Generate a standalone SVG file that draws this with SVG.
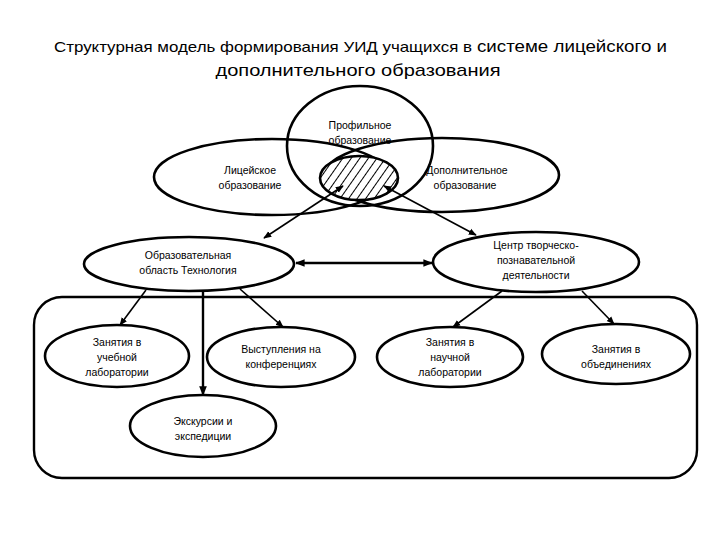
<svg xmlns="http://www.w3.org/2000/svg" width="720" height="540" viewBox="0 0 720 540">
<style>
.el{fill:none;stroke:#000;stroke-width:2.6}
.t{font-family:"Liberation Sans",Arial,sans-serif;font-size:10.5px;fill:#000;text-anchor:middle}
.title{font-family:"Liberation Sans",Arial,sans-serif;fill:#000}
.c{stroke:#000;stroke-width:1.6;fill:none}
.c2{stroke:#000;stroke-width:2.4;fill:none}
</style>
<defs>
<marker id="ah" viewBox="0 0 10 10" refX="9" refY="5" markerWidth="5" markerHeight="5" orient="auto-start-reverse" markerUnits="strokeWidth">
<path d="M0,1 L10,5 L0,9 z" fill="#000"/>
</marker>
<marker id="ah2" viewBox="0 0 10 10" refX="9" refY="5" markerWidth="4" markerHeight="4" orient="auto-start-reverse" markerUnits="strokeWidth">
<path d="M0,1 L10,5 L0,9 z" fill="#000"/>
</marker>
<pattern id="hatch" width="7" height="7" patternUnits="userSpaceOnUse" patternTransform="rotate(35)">
<rect width="7" height="7" fill="#fff"/>
<line x1="0.5" y1="0" x2="0.5" y2="7" stroke="#000" stroke-width="1"/>
</pattern>
</defs>
<rect width="720" height="540" fill="#fff"/>
<g id="title">
<text class="title" x="54" y="52" font-size="15" textLength="418" lengthAdjust="spacingAndGlyphs">Структурная модель формирования УИД учащихся в</text>
<text class="title" x="477" y="52" font-size="17" textLength="190" lengthAdjust="spacingAndGlyphs">системе лицейского и</text>
<text class="title" x="358" y="76" font-size="17" text-anchor="middle" textLength="285" lengthAdjust="spacingAndGlyphs">дополнительного образования</text>
</g>
<g id="frame">
<rect x="34" y="297" width="663" height="181" rx="28" ry="28" fill="none" stroke="#000" stroke-width="2.4"/>
</g>
<g id="n-licey">
<ellipse class="el" cx="272" cy="177" rx="118" ry="38"/>
<text class="t" x="250" y="174">Лицейское</text>
<text class="t" x="250" y="189">образование</text>
</g>
<g id="n-dop">
<ellipse class="el" cx="442" cy="175" rx="117" ry="37"/>
<text class="t" x="467" y="174">Дополнительное</text>
<text class="t" x="465" y="189">образование</text>
</g>
<g id="n-prof">
<ellipse class="el" cx="360" cy="146" rx="73" ry="60"/>
<text class="t" x="360" y="129">Профильное</text>
<text class="t" x="360" y="144">образование</text>
</g>
<g id="n-cross">
<ellipse cx="359" cy="178" rx="39" ry="22" fill="url(#hatch)" stroke="#000" stroke-width="2.6"/>
</g>
<g id="n-tech">
<ellipse class="el" cx="189" cy="264" rx="105" ry="27"/>
<text class="t" x="188" y="259">Образовательная</text>
<text class="t" x="188" y="274">область Технология</text>
</g>
<g id="n-center">
<ellipse class="el" cx="536" cy="262" rx="103" ry="30"/>
<text class="t" x="536" y="249">Центр творческо-</text>
<text class="t" x="536" y="264">познавательной</text>
<text class="t" x="536" y="279">деятельности</text>
</g>
<g id="n-lab1">
<ellipse class="el" cx="117" cy="356" rx="72" ry="31"/>
<text class="t" x="117" y="346">Занятия в</text>
<text class="t" x="117" y="361">учебной</text>
<text class="t" x="117" y="376">лаборатории</text>
</g>
<g id="n-conf">
<ellipse class="el" cx="281" cy="357" rx="74" ry="30"/>
<text class="t" x="281" y="353">Выступления на</text>
<text class="t" x="281" y="368">конференциях</text>
</g>
<g id="n-lab2">
<ellipse class="el" cx="450" cy="357" rx="73" ry="30"/>
<text class="t" x="450" y="346">Занятия в</text>
<text class="t" x="450" y="361">научной</text>
<text class="t" x="450" y="376">лаборатории</text>
</g>
<g id="n-obed">
<ellipse class="el" cx="616" cy="354" rx="74" ry="30"/>
<text class="t" x="616" y="353">Занятия в</text>
<text class="t" x="616" y="368">объединениях</text>
</g>
<g id="n-exc">
<ellipse class="el" cx="203" cy="426" rx="73" ry="31"/>
<text class="t" x="203" y="425">Экскурсии и</text>
<text class="t" x="203" y="440">экспедиции</text>
</g>
<g id="connectors">
<line class="c" x1="343" y1="186" x2="264" y2="238" marker-start="url(#ah)" marker-end="url(#ah)"/>
<line class="c" x1="384" y1="186" x2="476" y2="235" marker-start="url(#ah)" marker-end="url(#ah)"/>
<line class="c2" x1="296" y1="263" x2="432" y2="263" marker-start="url(#ah2)" marker-end="url(#ah2)"/>
<line class="c" x1="146" y1="290" x2="120" y2="325" marker-end="url(#ah)"/>
<line class="c2" x1="203" y1="291" x2="203" y2="395" marker-end="url(#ah2)"/>
<line class="c" x1="240" y1="289" x2="283" y2="327" marker-end="url(#ah)"/>
<line class="c" x1="502" y1="291" x2="453" y2="327" marker-end="url(#ah)"/>
<line class="c" x1="582" y1="291" x2="614" y2="324" marker-end="url(#ah)"/>
</g>
</svg>
